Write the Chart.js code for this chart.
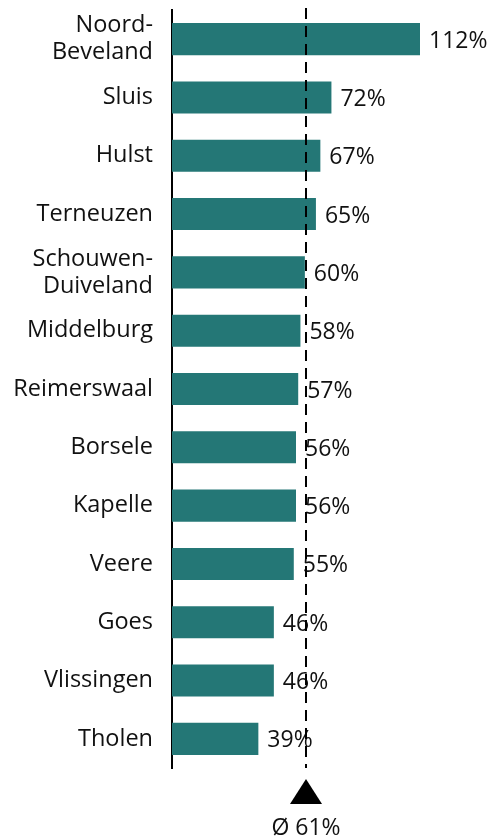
<!DOCTYPE html>
<html><head><meta charset="utf-8">
<script src="https://cdn.jsdelivr.net/npm/chart.js@4/dist/chart.umd.min.js"></script>
<style>html,body{margin:0;padding:0;background:#fff}#wrap{width:490px;height:839px;position:relative}</style>
</head><body><div id="wrap"><canvas id="c"></canvas></div>
<script>
const categories = [["Noord-","Beveland"],"Sluis","Hulst","Terneuzen",["Schouwen-","Duiveland"],"Middelburg","Reimerswaal","Borsele","Kapelle","Veere","Goes","Vlissingen","Tholen"];
const values = [112,72,67,65,60,58,57,56,56,55,46,46,39];
const average = 61;
const valueLabels = values.map(v => v + "%");
const averageLabel = "Ø " + average + "%";

const FONT = "'Open Sans', Lato, sans-serif";

const overlay = {
  id: 'overlay',
  afterDatasetsDraw(chart) {
    const {ctx, chartArea, scales} = chart;
    const x = scales.x;
    ctx.save();
    ctx.fillStyle = '#111';
    ctx.font = '23px ' + FONT;
    ctx.textBaseline = 'middle';
    ctx.textAlign = 'left';
    const meta = chart.getDatasetMeta(0);
    meta.data.forEach((bar, i) => {
      ctx.fillText(valueLabels[i], bar.x + 9, bar.y + 2);
    });
    const ax = Math.round(x.getPixelForValue(average)) - 1;
    ctx.strokeStyle = '#000';
    ctx.lineWidth = 2;
    ctx.setLineDash([11, 7]);
    ctx.beginPath();
    ctx.moveTo(ax, chartArea.top - 2);
    ctx.lineTo(ax, chartArea.bottom);
    ctx.stroke();
    ctx.setLineDash([]);
    ctx.fillStyle = '#000';
    ctx.beginPath();
    ctx.moveTo(ax, chartArea.bottom + 11);
    ctx.lineTo(ax + 16, chartArea.bottom + 36);
    ctx.lineTo(ax - 16, chartArea.bottom + 36);
    ctx.closePath();
    ctx.fill();
    ctx.textAlign = 'center';
    ctx.fillStyle = '#111';
    ctx.fillText(averageLabel, ax, chartArea.bottom + 60);
    ctx.restore();
  }
};

new Chart(document.getElementById('c'), {
  type: 'bar',
  data: {
    labels: categories,
    datasets: [{
      data: values,
      backgroundColor: '#247776',
      borderWidth: 0,
      categoryPercentage: 1,
      barPercentage: 0.55
    }]
  },
  options: {
    indexAxis: 'y',
    responsive: true,
    maintainAspectRatio: false,
    animation: false,
    layout: { padding: { top: 10, right: 70, bottom: 71, left: 0 } },
    plugins: { legend: { display: false }, tooltip: { enabled: false } },
    scales: {
      x: {
        min: 0, max: 112,
        display: false,
        grid: { display: false }
      },
      y: {
        afterFit(scale) { scale.width = 172; scale.paddingTop = 0; scale.paddingBottom = 0; },
        grid: { display: false, drawTicks: false },
        border: { display: true, color: '#000', width: 2 },
        ticks: {
          padding: 19,
          color: '#111',
          font: { family: FONT, size: 23.5, lineHeight: 1.15 }
        }
      }
    }
  },
  plugins: [overlay]
});
</script></body></html>
